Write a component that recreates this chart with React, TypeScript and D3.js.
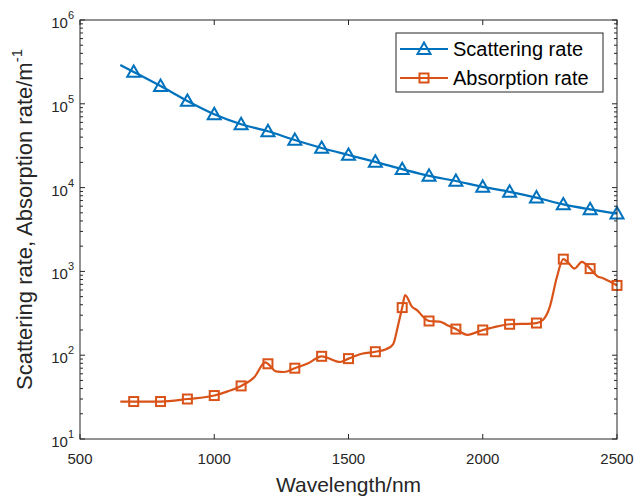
import * as d3 from "d3";

// scattering rate (m^-1) vs wavelength (nm)
const scatWl = [650, 700, 800, 900, 1000, 1100, 1200, 1300, 1400, 1500, 1600, 1700, 1800, 1900, 2000, 2100, 2200, 2300, 2400, 2500];
const scatVal = [290000, 240000, 163000, 108000, 75000, 57000, 47000, 37000, 29700, 24500, 20300, 16600, 13800, 12000, 10200, 8900, 7600, 6300, 5500, 4900];

// absorption rate (m^-1) vs wavelength (nm)
const absWl = [650, 700, 800, 900, 1000, 1050, 1100, 1150, 1190, 1200, 1230, 1260, 1300, 1350, 1400, 1470, 1500, 1550, 1600, 1640, 1666, 1685, 1700, 1711, 1736, 1755, 1777, 1800, 1840, 1866, 1900, 1943, 1965, 2000, 2037, 2100, 2140, 2200, 2225, 2250, 2276, 2300, 2317, 2342, 2369, 2400, 2426, 2448, 2500];
const absVal = [28, 28, 28, 30, 33, 37, 43, 55, 82, 79, 64, 63, 70, 80, 97, 83, 91, 104, 110, 118, 135, 230, 370, 520, 380, 345, 290, 256, 252, 230, 205, 175, 182, 200, 214, 234, 236, 242, 265, 380, 850, 1400, 1280, 1080, 1300, 1080, 880, 830, 680];

const xTicks = [500, 1000, 1500, 2000, 2500];
const yExps = [1, 2, 3, 4, 5, 6];

const W = 634;
const H = 498;
const margin = { top: 20, right: 17, bottom: 59, left: 80 };
const blue = "#0072BD";
const orange = "#D95319";
const axisColor = "#262626";
const font = "'Liberation Sans', Arial, sans-serif";

const App = () => {
    const x = d3.scaleLinear().domain([500, 2500]).range([margin.left, W - margin.right]);
    const y = d3.scaleLog().domain([10, 1e6]).range([H - margin.bottom, margin.top]);

    const line = d3.line<[number, number]>()
        .x(d => x(d[0]))
        .y(d => y(d[1]))
        .curve(d3.curveMonotoneX);

    const scat: [number, number][] = scatWl.map((w, i) => [w, scatVal[i]]);
    const abs: [number, number][] = absWl.map((w, i) => [w, absVal[i]]);
    const isMarker = (d: [number, number]) => d[0] >= 700 && d[0] % 100 === 0;

    const x0 = margin.left, x1 = W - margin.right;
    const y0 = margin.top, y1 = H - margin.bottom;

    const minor: number[] = [];
    for (let e = 1; e < 6; e++) {
        for (let m = 2; m <= 9; m++) minor.push(m * Math.pow(10, e));
    }

    const tri = (cx: number, cy: number) => {
        const s = 6.5;
        return `M${cx},${cy - s} L${cx + s},${cy + s * 0.75} L${cx - s},${cy + s * 0.75} Z`;
    };

    return (
        <svg width={W} height={H} style={{ position: "absolute", left: 0, top: 0, background: "#fff" }} fontFamily={font}>
            <rect x={0} y={0} width={W} height={H} fill="#fff" />

            {/* ticks */}
            <g stroke={axisColor} strokeWidth={1}>
                {xTicks.map(t => (
                    <g key={"xt" + t}>
                        <line x1={x(t)} x2={x(t)} y1={y1} y2={y1 - 5} />
                        <line x1={x(t)} x2={x(t)} y1={y0} y2={y0 + 5} />
                    </g>
                ))}
                {yExps.map(e => (
                    <g key={"yt" + e}>
                        <line x1={x0} x2={x0 + 5} y1={y(Math.pow(10, e))} y2={y(Math.pow(10, e))} />
                        <line x1={x1} x2={x1 - 5} y1={y(Math.pow(10, e))} y2={y(Math.pow(10, e))} />
                    </g>
                ))}
                {minor.map(v => (
                    <g key={"ym" + v}>
                        <line x1={x0} x2={x0 + 3} y1={y(v)} y2={y(v)} />
                        <line x1={x1} x2={x1 - 3} y1={y(v)} y2={y(v)} />
                    </g>
                ))}
            </g>

            {/* lines */}
            <path d={line(scat) || ""} fill="none" stroke={blue} strokeWidth={2.2} />
            <path d={line(abs) || ""} fill="none" stroke={orange} strokeWidth={2.2} />

            {scat.filter(isMarker).map(d => (
                <path key={"s" + d[0]} d={tri(x(d[0]), y(d[1]))} fill="none" stroke={blue} strokeWidth={2} />
            ))}
            {abs.filter(isMarker).map(d => (
                <rect key={"a" + d[0]} x={x(d[0]) - 4.5} y={y(d[1]) - 4.5} width={9} height={9} fill="none" stroke={orange} strokeWidth={2} />
            ))}

            {/* box */}
            <rect x={x0} y={y0} width={x1 - x0} height={y1 - y0} fill="none" stroke={axisColor} strokeWidth={1} />

            {/* tick labels */}
            <g fill={axisColor} fontSize={15}>
                {xTicks.map(t => (
                    <text key={"xl" + t} x={x(t)} y={y1 + 25} textAnchor="middle">{t}</text>
                ))}
                {yExps.map(e => (
                    <text key={"yl" + e} x={x0 - 6} y={y(Math.pow(10, e)) + 8} textAnchor="end">
                        10<tspan fontSize={11} dy={-9}>{e}</tspan>
                    </text>
                ))}
            </g>

            {/* axis titles */}
            <text x={(x0 + x1) / 2} y={H - 6} textAnchor="middle" fontSize={21} fill={axisColor}>Wavelength/nm</text>
            <text transform={`translate(32,${(y0 + y1) / 2 - 10}) rotate(-90)`} textAnchor="middle" fontSize={22} fill={axisColor}>
                Scattering rate, Absorption rate/m<tspan fontSize={15} dy={-10}>-1</tspan>
            </text>

            {/* legend */}
            <g>
                <rect x={396} y={33} width={207} height={59} fill="#fff" stroke={axisColor} strokeWidth={1} />
                <line x1={400} x2={448} y1={49} y2={49} stroke={blue} strokeWidth={2.2} />
                <path d={tri(424, 49)} fill="none" stroke={blue} strokeWidth={2} />
                <text x={453} y={56} fontSize={20} fill="#000">Scattering rate</text>
                <line x1={400} x2={448} y1={78} y2={78} stroke={orange} strokeWidth={2.2} />
                <rect x={419.5} y={73.5} width={9} height={9} fill="none" stroke={orange} strokeWidth={2} />
                <text x={453} y={85} fontSize={20} fill="#000">Absorption rate</text>
            </g>
        </svg>
    );
};

export default App;
